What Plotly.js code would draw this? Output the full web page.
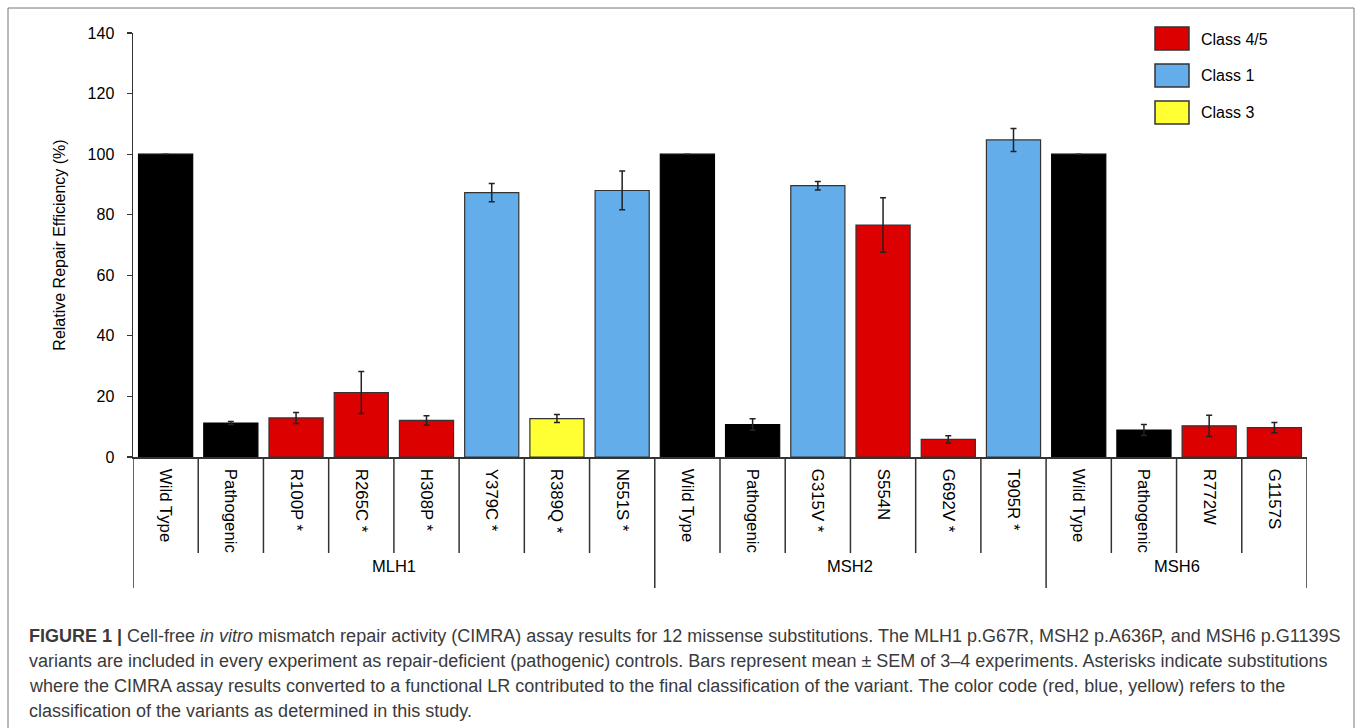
<!DOCTYPE html>
<html>
<head>
<meta charset="utf-8">
<script src="https://cdn.plot.ly/plotly-3.0.1.min.js"></script>
<style>html,body{margin:0;padding:0;background:#fff;}#chart{width:1358px;height:728px;}</style>
</head>
<body>
<div id="chart"></div>
<script>
// ---- data ----
const variants = ["Wild Type","Pathogenic","R100P *","R265C *","H308P *","Y379C *","R389Q *","N551S *",
                  "Wild Type","Pathogenic","G315V *","S554N","G692V *","T905R *",
                  "Wild Type","Pathogenic","R772W","G1157S"];
const genes = ["MLH1","MSH2","MSH6"];
const geneSizes = [8, 6, 4];
const efficiency = [100, 11.2, 12.9, 21.3, 12.1, 87.3, 12.7, 88.0,
                    100, 10.7, 89.6, 76.6, 5.8, 104.7,
                    100, 8.9, 10.3, 9.7];
const sem = [0, 0.5, 1.8, 6.9, 1.5, 3.0, 1.3, 6.4,
             0, 1.9, 1.4, 9.0, 1.2, 3.8,
             0, 1.8, 3.5, 1.7];
const variantClass = ["Control","Control","Class 4/5","Class 4/5","Class 4/5","Class 1","Class 3","Class 1",
                      "Control","Control","Class 1","Class 4/5","Class 4/5","Class 1",
                      "Control","Control","Class 4/5","Class 4/5"];
const legendClasses = ["Class 4/5","Class 1","Class 3"];
const captionLines = [
  "<b>FIGURE 1 |</b> Cell-free <i>in vitro</i> mismatch repair activity (CIMRA) assay results for 12 missense substitutions. The MLH1 p.G67R, MSH2 p.A636P, and MSH6 p.G1139S",
  "variants are included in every experiment as repair-deficient (pathogenic) controls. Bars represent mean ± SEM of 3–4 experiments. Asterisks indicate substitutions",
  "where the CIMRA assay results converted to a functional LR contributed to the final classification of the variant. The color code (red, blue, yellow) refers to the",
  "classification of the variants as determined in this study."
];

// ---- styles ----
const classColor = {"Control":"#000000","Class 4/5":"#DD0000","Class 1":"#63AEEA","Class 3":"#FFFF33"};
const FONT = "Liberation Sans, Arial, Helvetica, sans-serif";
const W = 1358, H = 728, ML = 133, MR = 51, MT = 33, MB = 271;
const PW = W - ML - MR, PH = H - MT - MB;
const px2x = p => (p - ML) / PW;          // pixel -> paper x
const py2y = p => (H - MB - p) / PH;      // pixel -> paper y

const idx = variants.map((_, i) => i);

const trace = {
  type: "bar",
  x: idx,
  y: efficiency,
  width: 0.83,
  marker: {
    color: variantClass.map(c => classColor[c]),
    line: {color: variantClass.map(c => c === "Control" ? "#000" : "#333"), width: 1.2}
  },
  error_y: {type: "data", array: sem, visible: true, color: "#222", thickness: 1.5, width: 3},
  hoverinfo: "x+y",
  showlegend: false
};

const shapes = [];
const annotations = [];
const lineStyle = {color: "#333", width: 1.5};

// group boundaries and category dividers
const boundaries = [];
let acc = -0.5;
boundaries.push(acc);
const groupCenters = [];
geneSizes.forEach(n => { groupCenters.push(acc + n / 2); acc += n; boundaries.push(acc); });
for (let i = 0; i <= variants.length; i++) {
  const xv = i - 0.5;
  const isGroup = boundaries.some(b => Math.abs(b - xv) < 1e-9);
  shapes.push({type: "line", xref: "x", yref: "paper", x0: xv, x1: xv, y0: 0,
               y1: isGroup ? py2y(588) : py2y(553), line: lineStyle});
}
genes.forEach((g, k) => {
  annotations.push({text: g, xref: "x", yref: "paper", x: groupCenters[k], y: py2y(577),
                    showarrow: false, font: {family: FONT, size: 16.5, color: "#000"}});
});

// legend (drawn as boxes + labels)
legendClasses.forEach((c, k) => {
  const top = 27 + k * 37;
  shapes.push({type: "rect", xref: "paper", yref: "paper",
               x0: px2x(1155), x1: px2x(1189), y0: py2y(top), y1: py2y(top + 23),
               fillcolor: classColor[c], line: {color: "#333", width: 1.5}});
  annotations.push({text: c, xref: "paper", yref: "paper", x: px2x(1199), y: py2y(top + 12),
                    xanchor: "left", yanchor: "middle", showarrow: false,
                    font: {family: FONT, size: 16, color: "#000"}});
});

// outer frame
shapes.push({type: "rect", xref: "paper", yref: "paper",
             x0: px2x(8), x1: px2x(1354), y0: py2y(8), y1: py2y(740),
             line: {color: "#777", width: 1}, fillcolor: "rgba(0,0,0,0)"});

// caption
captionLines.forEach((t, k) => {
  annotations.push({text: t, xref: "paper", yref: "paper", x: px2x(27), y: py2y(636 + k * 25),
                    xanchor: "left", yanchor: "middle", align: "left", showarrow: false,
                    font: {family: FONT, size: 18, color: "#3a3a3a"}});
});

const layout = {
  width: W, height: H,
  margin: {l: ML, r: MR, t: MT, b: MB, pad: 0},
  paper_bgcolor: "#fff", plot_bgcolor: "#fff",
  font: {family: FONT, color: "#000"},
  showlegend: false,
  bargap: 0.17,
  xaxis: {
    range: [-0.5, variants.length - 0.5],
    tickmode: "array", tickvals: idx, ticktext: variants,
    tickangle: 90, ticks: "", showgrid: false, zeroline: false,
    showline: true, linecolor: "#333", linewidth: 1.5,
    tickfont: {family: FONT, size: 16.8, color: "#000"},
    ticklabelstandoff: 7, automargin: false
  },
  yaxis: {
    range: [0, 140], dtick: 20, tick0: 0,
    ticks: "outside", ticklen: 5, tickwidth: 1.2, tickcolor: "#333",
    showline: true, linecolor: "#333", linewidth: 1.5,
    showgrid: false, zeroline: false,
    tickfont: {family: FONT, size: 16, color: "#000"},
    ticklabelstandoff: 9,
    title: {text: "Relative Repair Efficiency (%)", standoff: 18, font: {family: FONT, size: 16, color: "#000"}},
    automargin: false
  },
  shapes: shapes,
  annotations: annotations
};

Plotly.newPlot("chart", [trace], layout, {displayModeBar: false, staticPlot: true});
</script>
</body>
</html>
